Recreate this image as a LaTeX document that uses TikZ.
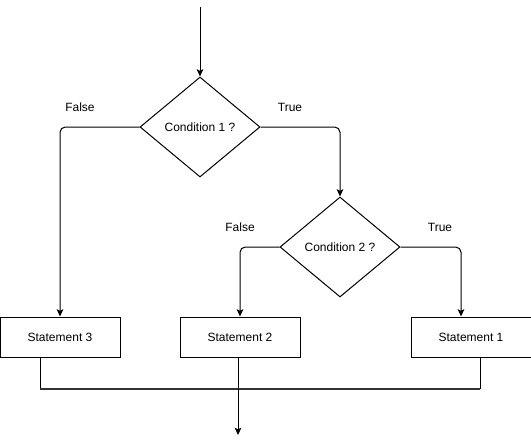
\documentclass[tikz,border=0pt]{standalone}
\usepackage{fontspec}
\setmainfont{Liberation Sans}
\usepackage{tikz}
\usetikzlibrary{shapes, arrows.meta, positioning, calc}

\begin{document}
\begin{tikzpicture}[
        x=0.75pt, y=-0.75pt,
        stmt_box/.style={
            draw, rectangle, minimum width=90pt, minimum height=30pt,
            align=center, font=\fontsize{9pt}{11pt}\selectfont, line width=0.75pt
        },
        cond_diamond/.style={
            draw, diamond, minimum width=90pt, minimum height=75pt, inner sep=0pt,
            aspect=1.2, align=center, font=\fontsize{9pt}{11pt}\selectfont, line width=0.75pt
        },
        flow_arrow/.style={
            -{Stealth[length=5.5pt, width=5pt, inset=1.2pt]}, line width=0.75pt, rounded corners=4pt
        },
        flow_line/.style={line width=0.75pt},
        bar_line/.style={line width=1.5pt, black!80},
        branch_label/.style={font=\fontsize{9pt}{11pt}\selectfont}
    ]
    \useasboundingbox (0,0) rectangle (531,444);

    % Decisions
    \node[cond_diamond] (cond1) at (200,127) {Condition 1 ?};
    \node[cond_diamond] (cond2) at (340,247) {Condition 2 ?};

    % Statements
    \node[stmt_box] (stmt3) at (60,337) {Statement 3};
    \node[stmt_box] (stmt2) at (240,337) {Statement 2};
    \node[stmt_box] (stmt1) at (471,337) {Statement 1};

    % Entry and exit points
    \coordinate (entry) at (200,7);
    \coordinate (bar_left) at (40,389);
    \coordinate (bar_right) at (480,389);
    \coordinate (merge) at (238,389);
    \coordinate (exit) at (238,435);

    % Branches
    \draw[flow_arrow] (entry) -- (cond1.north);
    \draw[flow_arrow] (cond1.west) -| (stmt3.north);
    \draw[flow_arrow] (cond1.east) -| (cond2.north);
    \draw[flow_arrow] (cond2.west) -| (stmt2.north);
    \draw[flow_arrow] (cond2.east) -| ($(stmt1.north)+(-10,0)$);

    % Branch labels
    \node[branch_label] (false1) at (80,107) {False};
    \node[branch_label] (true1) at (290,107) {True};
    \node[branch_label] (false2) at (240,227) {False};
    \node[branch_label] (true2) at (440,227) {True};

    % Joining the statements
    \draw[flow_line] (stmt3.south -| bar_left) -- (bar_left);
    \draw[flow_line] (stmt2.south -| merge) -- (merge);
    \draw[flow_line] (stmt1.south -| bar_right) -- (bar_right);
    \draw[bar_line] (bar_left) -- (bar_right);
    \draw[flow_arrow] (merge) -- (exit);

\end{tikzpicture}
\end{document}
